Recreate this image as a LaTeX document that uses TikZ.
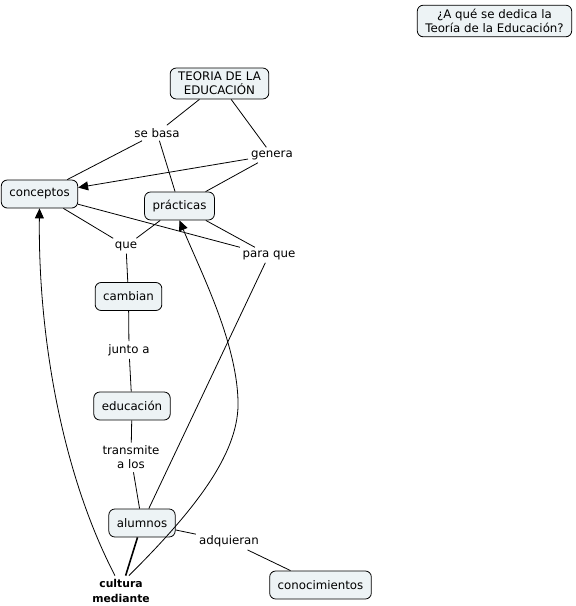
\documentclass[tikz,border=0pt]{standalone}
\usepackage{fontspec}
\setmainfont{DejaVu Sans}
\usepackage{xcolor}
\definecolor{BoxFill}{HTML}{EDF3F5}
\definecolor{Ink}{HTML}{000000}
\usetikzlibrary{arrows.meta}

\begin{document}
\begin{tikzpicture}[x=1pt, y=-1pt,
  concept/.style={rectangle, rounded corners=6pt, draw=Ink, fill=BoxFill, line width=0.8pt,
    font=\fontsize{11.8}{14}\selectfont, align=center, inner xsep=8pt, inner ysep=4pt,
    minimum height=28pt},
  phrase/.style={font=\fontsize{11.8}{14}\selectfont, align=center, inner sep=3pt},
  rel/.style={draw=Ink, line width=0.8pt},
  arr/.style={rel, -{Triangle[length=10pt, width=9pt]}},
]
\useasboundingbox (0,0) rectangle (576,606);

%% -- Concepts ------------------------------------------------
\node[concept] at (494.5, 21)  (Q)    {¿A qué se dedica la\\Teoría de la Educación?};
\node[concept] at (219.5, 83.5) (TE)  {TEORIA DE LA\\EDUCACIÓN};
\node[concept] at (39.5, 194)  (conc) {conceptos};
\node[concept] at (179.5, 206) (prac) {prácticas};
\node[concept] at (128.5, 296.5) (camb) {cambian};
\node[concept] at (132, 406)   (educ) {educación};
\node[concept] at (142, 523)   (alum) {alumnos};
\node[concept] at (320.5, 585) (cono) {conocimientos};

%% -- Linking phrases -----------------------------------------
\node[phrase] at (157, 133)   (basa)  {se basa};
\node[phrase] at (272, 155)   (gen)   {genera};
\node[phrase] at (126, 246)   (que)   {que};
\node[phrase] at (269, 255)   (para)  {para que};
\node[phrase] at (129, 350)   (junto) {junto a};
\node[phrase] at (131, 457.5) (trans) {transmite\\a los};
\node[phrase] at (229, 541)   (adq)   {adquieran};
\node[phrase, font=\fontsize{10.8}{15}\selectfont\bfseries] at (121, 590.5) (cult) {cultura\\mediante};

%% Relations
\draw[rel] (TE) -- (basa);
\draw[rel] (basa) -- (conc);
\draw[rel] (basa) -- (prac);
\draw[rel] (TE) -- (gen);
\draw[arr] (gen) -- (conc);
\draw[rel] (gen) -- (prac);
\draw[rel] (conc) -- (que);
\draw[rel] (prac) -- (que);
\draw[rel] (que) -- (camb);
\draw[rel] (conc) -- (para);
\draw[rel] (prac) -- (para);
\draw[rel] (para) -- (alum);
\draw[rel] (camb) -- (junto);
\draw[rel] (junto) -- (educ);
\draw[rel] (educ) -- (trans);
\draw[rel] (trans) -- (alum);
\draw[rel] (alum) -- (adq);
\draw[rel] (adq) -- (cono);
\draw[rel, line width=1.6pt] (alum) -- (cult);
\draw[arr] (cult.112) .. controls (60,470) and (38,330) .. (conc.south);
\draw[arr] (cult.62) .. controls (200,505) and (240,450) .. (238,400)
  .. controls (236,340) and (200,270) .. (prac.south);

\end{tikzpicture}
\end{document}
